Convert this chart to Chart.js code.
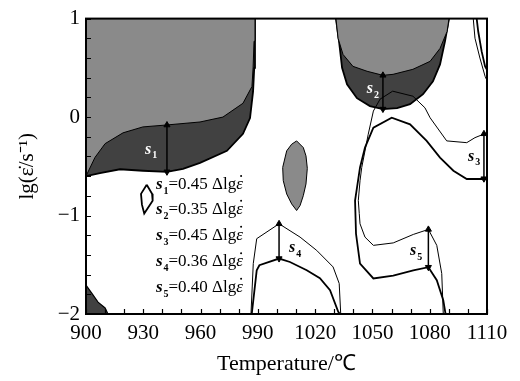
<!DOCTYPE html>
<html>
<head>
<meta charset="utf-8">
<script src="https://cdn.jsdelivr.net/npm/chart.js@4.4.0/dist/chart.umd.min.js"></script>
<style>
  html, body { margin: 0; padding: 0; background: #fff; }
  #wrap { width: 520px; height: 381px; }
</style>
</head>
<body>
<div id="wrap"><canvas id="chart"></canvas></div>
<script>
// processing map: temperature vs lg strain rate
const FONT = '"Liberation Serif", "Times New Roman", serif';
const LIGHT = '#8a8a8a';
const DARK = '#414141';

// dark band, top-left (lower edge)
const darkAX = [900, 907.3, 917.8, 929.8, 942.4, 950.8, 959.7, 973.8, 982.2, 985.9, 987.5, 988.1, 988.5];
const darkAY = [-0.60, -0.57, -0.53, -0.545, -0.556, -0.525, -0.465, -0.343, -0.17, -0.01, 0.26, 0.5, 1];
// light zone, top-left
const lightAX = [900, 904.7, 910, 919.4, 929.8, 942.4, 959.7, 971.7, 982.2, 986.9, 987.5, 988, 988.5];
const lightAY = [-0.60, -0.41, -0.27, -0.16, -0.10, -0.08, -0.05, 0, 0.14, 0.31, 0.5, 0.77, 1];

// dark band, top-middle
const darkBX = [1030.9, 1032.5, 1034.1, 1036.7, 1041.9, 1048.7, 1055.5, 1062.9, 1069.7, 1076.5, 1081.7, 1085.4, 1088, 1090.1];
const darkBY = [1, 0.77, 0.5, 0.333, 0.192, 0.111, 0.081, 0.091, 0.131, 0.232, 0.364, 0.535, 0.768, 1];
// light zone, top-middle
const lightBX = [1030.9, 1032, 1034.6, 1039.8, 1047.2, 1055.5, 1060.8, 1071.2, 1080.2, 1085.4, 1089.1, 1090.1];
const lightBY = [1, 0.8, 0.636, 0.515, 0.465, 0.424, 0.434, 0.485, 0.566, 0.697, 0.869, 1];

// dark corner, bottom-left
const darkCX = [900, 903, 906.3, 910, 911.5];
const darkCY = [-1.707, -1.788, -1.879, -1.939, -2];

// light lens near 1010
const lensUpX = [1003, 1005.1, 1007.7, 1010.3, 1013.8, 1015.2, 1015.9];
const lensUpY = [-0.512, -0.343, -0.276, -0.242, -0.31, -0.394, -0.52];
const lensLoX = [1003, 1003.3, 1005.1, 1007.7, 1010.3, 1012.1, 1013.8, 1015.2, 1015.9];
const lensLoY = [-0.512, -0.646, -0.781, -0.882, -0.949, -0.899, -0.798, -0.68, -0.52];

// open contour near 930
const loopX = [931.8, 934.6, 934.9, 930.5, 929.3, 928.8, 931.8];
const loopY = [-0.687, -0.78, -0.85, -0.98, -0.89, -0.78, -0.687];

// contours around 1000 (s4)
const s4ThinX = [986.4, 987.6, 989.4, 1001.1, 1012.1, 1020.8, 1029.4, 1032.6, 1033.4];
const s4ThinY = [-2, -1.488, -1.235, -1.084, -1.219, -1.354, -1.522, -1.69, -2];
const s4ThickX = [986.8, 989.4, 990.8, 1001.1, 1006.8, 1015.6, 1022.5, 1027.8, 1032.1, 1033];
const s4ThickY = [-2, -1.556, -1.505, -1.437, -1.472, -1.556, -1.636, -1.758, -1.977, -2];

// contours on the right (s3, s5)
const rThinX = [1087.1, 1086.3, 1083.7, 1079.3, 1071.4, 1060.9, 1050.5, 1046.1, 1043.5, 1043.1, 1042.6, 1043.5, 1044.4, 1047.8, 1050.5, 1054, 1060.6, 1071.2, 1077.5, 1080.2, 1088.9, 1099.4, 1103.7, 1110];
const rThinY = [-2, -1.589, -1.303, -1.141, -1.192, -1.278, -1.303, -1.219, -1.084, -0.98, -0.848, -0.646, -0.512, -0.175, 0.061, 0.182, 0.263, 0.212, 0.094, -0.007, -0.242, -0.26, -0.209, -0.16];
const rThickX = [1088.3, 1087.1, 1083.7, 1079.3, 1071.4, 1060.9, 1050.5, 1043.5, 1041.4, 1040.9, 1043.5, 1046.1, 1050.5, 1060.1, 1069.7, 1078.4, 1085.4, 1092.4, 1099.4, 1110];
const rThickY = [-2, -1.859, -1.657, -1.525, -1.556, -1.611, -1.639, -1.488, -1.185, -0.848, -0.512, -0.31, -0.108, -0.007, -0.074, -0.242, -0.411, -0.545, -0.629, -0.629];

// contours top-right corner
const trThinX = [1102.8, 1103.7, 1106.3, 1109, 1110];
const trThinY = [1, 0.801, 0.599, 0.414, 0.37];
const trThickX = [1104.6, 1105.4, 1107.2, 1109, 1110];
const trThickY = [1, 0.869, 0.667, 0.515, 0.48];

// arrows s1..s5
const arrowX = [942.4, 1055.5, 1108.4, 1001.1, 1079.3];
const arrowTop = [-0.081, 0.424, -0.17, -1.084, -1.141];
const arrowBottom = [-0.556, 0.081, -0.626, -1.437, -1.525];
const stability = [0.45, 0.35, 0.45, 0.36, 0.40];

// where the s labels sit (data coords, left/baseline)
const sLabelX = [930.9, 1047, 1100, 1006.3, 1069.7];
const sLabelY = [-0.374, 0.242, -0.444, -1.374, -1.404];
const sLabelColor = ['#fff', '#fff', '#000', '#000', '#000'];
const noteX = 936.6;
const noteY = [-0.73, -0.983, -1.246, -1.515, -1.775];

const xTicks = [900, 1110, 30];
const yTicks = [-2, 1, 1];

function pts(xs, ys) { return xs.map((x, i) => ({ x: x, y: ys[i] })); }

function curve(xs, ys, width, extra) {
  return Object.assign({
    data: pts(xs, ys), showLine: true, pointRadius: 0, tension: 0,
    borderColor: '#000', borderWidth: width, fill: false, order: 1
  }, extra || {});
}

const datasets = [
  curve(darkAX, darkAY, 1.8, { fill: 'end', backgroundColor: DARK, order: 20 }),
  curve(lightAX, lightAY, 1, { fill: 'end', backgroundColor: LIGHT, order: 19 }),
  curve(darkBX, darkBY, 1.8, { fill: 'end', backgroundColor: DARK, order: 18 }),
  curve(lightBX, lightBY, 1, { fill: 'end', backgroundColor: LIGHT, order: 17 }),
  curve(darkCX, darkCY, 1.2, { fill: 'start', backgroundColor: DARK, order: 16 }),
  curve(lensUpX, lensUpY, 1, { fill: '+1', backgroundColor: LIGHT, order: 15 }),
  curve(lensLoX, lensLoY, 1, { order: 14 }),
  curve(loopX, loopY, 1.8),
  curve(s4ThinX, s4ThinY, 1),
  curve(s4ThickX, s4ThickY, 1.8),
  curve(rThinX, rThinY, 1),
  curve(rThickX, rThickY, 1.8),
  curve(trThinX, trThinY, 1),
  curve(trThickX, trThickY, 1.8)
];

arrowX.forEach((x, i) => {
  datasets.push({
    data: [{ x: x, y: arrowTop[i] }, { x: x, y: arrowBottom[i] }],
    showLine: true, borderColor: '#000', borderWidth: 1.5, order: 0,
    pointStyle: 'triangle', pointRadius: 3.5, pointRotation: [0, 180],
    pointBackgroundColor: '#000', pointBorderColor: '#000', pointBorderWidth: 1
  });
});

function sName(ctx, x, y, n, size, color) {
  ctx.fillStyle = color;
  ctx.textAlign = 'left';
  ctx.textBaseline = 'alphabetic';
  ctx.font = 'italic bold ' + size + 'px ' + FONT;
  ctx.fillText('s', x, y);
  const w = ctx.measureText('s').width;
  ctx.font = 'bold ' + Math.round(size * 0.6) + 'px ' + FONT;
  ctx.fillText(String(n), x + w + 1, y + size * 0.28);
  return x + w + 1 + ctx.measureText(String(n)).width;
}

const decor = {
  id: 'decor',
  afterDatasetsDraw(chart) {
    const { ctx, chartArea: a, scales: { x, y } } = chart;
    ctx.save();
    // inward ticks
    ctx.strokeStyle = '#000';
    ctx.lineWidth = 1.2;
    ctx.beginPath();
    for (let t = xTicks[0]; t <= xTicks[1]; t += 10) {
      const px = Math.round(x.getPixelForValue(t)) + 0.5;
      ctx.moveTo(px, a.bottom); ctx.lineTo(px, a.bottom - 5);
    }
    for (let t = yTicks[0]; t <= yTicks[1] + 1e-6; t += 0.2) {
      const py = Math.round(y.getPixelForValue(t)) + 0.5;
      ctx.moveTo(a.left, py); ctx.lineTo(a.left + 5, py);
    }
    ctx.stroke();
    // frame
    ctx.lineWidth = 2;
    ctx.strokeRect(a.left, a.top, a.right - a.left, a.bottom - a.top);

    // s labels next to arrows
    sLabelX.forEach((lx, i) => {
      sName(ctx, x.getPixelForValue(lx), y.getPixelForValue(sLabelY[i]), i + 1, 16, sLabelColor[i]);
    });

    // the list of s values
    const nx = x.getPixelForValue(noteX);
    stability.forEach((v, i) => {
      const by = y.getPixelForValue(noteY[i]);
      let cx = sName(ctx, nx, by, i + 1, 17, '#000');
      ctx.font = '17px ' + FONT;
      const txt = '=' + v.toFixed(2) + ' \u0394lg';
      ctx.fillText(txt, cx, by);
      cx += ctx.measureText(txt).width;
      ctx.font = 'italic 17px ' + FONT;
      ctx.fillText('\u03b5', cx, by);
      const ew = ctx.measureText('\u03b5').width;
      ctx.beginPath();
      ctx.arc(cx + ew / 2 + 1.5, by - 13, 1, 0, Math.PI * 2);
      ctx.fill();
    });
    ctx.restore();
  }
};

const minus = v => String(v).replace('-', '\u2212');

new Chart(document.getElementById('chart'), {
  type: 'scatter',
  data: { datasets: datasets },
  options: {
    responsive: true,
    maintainAspectRatio: false,
    animation: false,
    devicePixelRatio: 1,
    layout: { padding: { top: 17, right: 33, left: 0, bottom: 0 } },
    plugins: { legend: { display: false }, tooltip: { enabled: false } },
    scales: {
      x: {
        type: 'linear', min: xTicks[0], max: xTicks[1],
        afterFit: s => { s.height = 67; },
        grid: { display: false, drawTicks: false },
        border: { display: false },
        ticks: { stepSize: xTicks[2], autoSkip: false, maxRotation: 0, padding: 7, color: '#000',
          callback: v => String(v), font: { family: FONT, size: 21 } },
        title: { display: true, text: 'Temperature/\u2103', color: '#000',
          font: { family: FONT, size: 22 }, padding: { top: 0, bottom: 4 } }
      },
      y: {
        type: 'linear', min: yTicks[0], max: yTicks[1],
        afterFit: s => { s.width = 86; },
        grid: { display: false, drawTicks: false },
        border: { display: false },
        ticks: { stepSize: yTicks[2], padding: 6, color: '#000', callback: minus,
          font: { family: FONT, size: 21 } },
        title: { display: true, text: 'lg(\u03b5\u0307/s\u207b\u00b9)', color: '#000',
          font: { family: FONT, size: 21 }, padding: { top: 15, bottom: 0 } }
      }
    }
  },
  plugins: [decor]
});
</script>
</body>
</html>
